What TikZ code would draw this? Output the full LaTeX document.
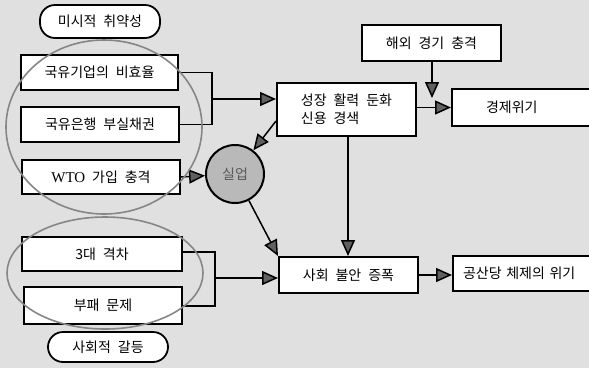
\documentclass[tikz,border=0pt]{standalone}
\usepackage{fontspec}
\setmainfont{Noto Sans CJK KR}[WordSpace=2.2]
\newfontfamily\latserif{Liberation Serif}
\usetikzlibrary{arrows.meta,calc}
\begin{document}
\begin{tikzpicture}[x=1pt,y=-1pt,
  box/.style={draw, line width=2pt, fill=white, inner sep=0pt, font=\fontsize{14}{18}\selectfont},
  pill/.style={draw, line width=1.8pt, fill=white, rounded corners=15pt, inner sep=0pt, font=\fontsize{14}{18}\selectfont},
  arr/.style={line width=1.5pt, -{Triangle[length=16pt,width=14pt,fill=gray!75!black]}},
  ring/.style={draw=gray!95, line width=1.6pt},
  brk/.style={line width=1.5pt}]
\fill[black!12] (0,0) rectangle (589,368);
\useasboundingbox (0,0) rectangle (589,368);

% left column
\node[pill, minimum width=120pt, minimum height=33pt] (micro) at (100,21.5) {미시적 취약성};
\node[box, minimum width=157pt, minimum height=35pt] (b1) at (99.5,72.5) {국유기업의 비효율};
\node[box, minimum width=158pt, minimum height=35pt] (b2) at (100,124.5) {국유은행 부실채권};
\node[box, minimum width=158pt, minimum height=34pt] (b3) at (101,177) {{\latserif\fontsize{15}{18}\selectfont WTO} 가입 충격};
\node[box, minimum width=160pt, minimum height=34pt] (b4) at (102,254) {3대 격차};
\node[box, minimum width=158pt, minimum height=37pt] (b5) at (103,305.5) {부패 문제};
\node[pill, minimum width=120pt, minimum height=30pt] (social) at (108,347) {사회적 갈등};

% middle / right
\node[box, minimum width=139pt, minimum height=53pt, align=left] (growth) at (346.5,109.5) {성장 활력 둔화\\신용 경색};
\node[box, minimum width=139pt, minimum height=36pt] (overseas) at (431.5,43) {해외 경기 충격};
\node[box, anchor=west, text width=100pt, align=left, inner xsep=34pt, minimum height=37pt] (crisis) at (451,107.5) {경제위기};
\node[box, minimum width=139pt, minimum height=36pt] (unrest) at (348.5,275) {사회 불안 증폭};
\node[box, anchor=west, text width=130pt, align=left, inner xsep=10pt, minimum height=35pt] (party) at (452,273.5) {공산당 체제의 위기};
\node[circle, draw, line width=2pt, fill=gray!55, minimum size=58pt, inner sep=0pt, text=gray!70!black, font=\fontsize{14}{18}\selectfont] (unemp) at (235,174) {실업};

% bracket 1
\coordinate (k1) at (212,72.5);
\coordinate (k2) at (212,124.5);
\coordinate (m1) at (212,99);
\draw[brk] (b1.east) -- (k1) -- (k2) -- (b2.east);
\draw[arr] (m1) -- (m1 -| growth.west);

% bracket 2
\coordinate (k3) at (215,252);
\coordinate (k4) at (215,306);
\coordinate (m2) at (215,278);
\draw[brk] (b4.east |- k3) -- (k3) -- (k4) -- (b5.east |- k4);
\draw[arr] (m2) -- (m2 -| unrest.west);

% other arrows
\coordinate (dtip) at (432,98);
\draw[arr] (overseas.south -| dtip) -- (dtip);
\draw[arr] (growth.east |- crisis.west) -- (crisis.west);
\draw[arr] ($(growth.south west)+(0,-16)$) -- (unemp);
\draw[arr] (b3.east) -- (unemp);
\draw[arr] (unemp) -- (unrest.north west);
\draw[arr] (growth.south -| 348,0) -- (unrest.north -| 348,0);
\draw[arr] (unrest.east) -- (unrest.east -| party.west);

% rings
\draw[ring] (104,127) ellipse [x radius=98pt, y radius=87pt];
\draw[ring] (105,273) ellipse [x radius=98pt, y radius=56pt];
\end{tikzpicture}
\end{document}
